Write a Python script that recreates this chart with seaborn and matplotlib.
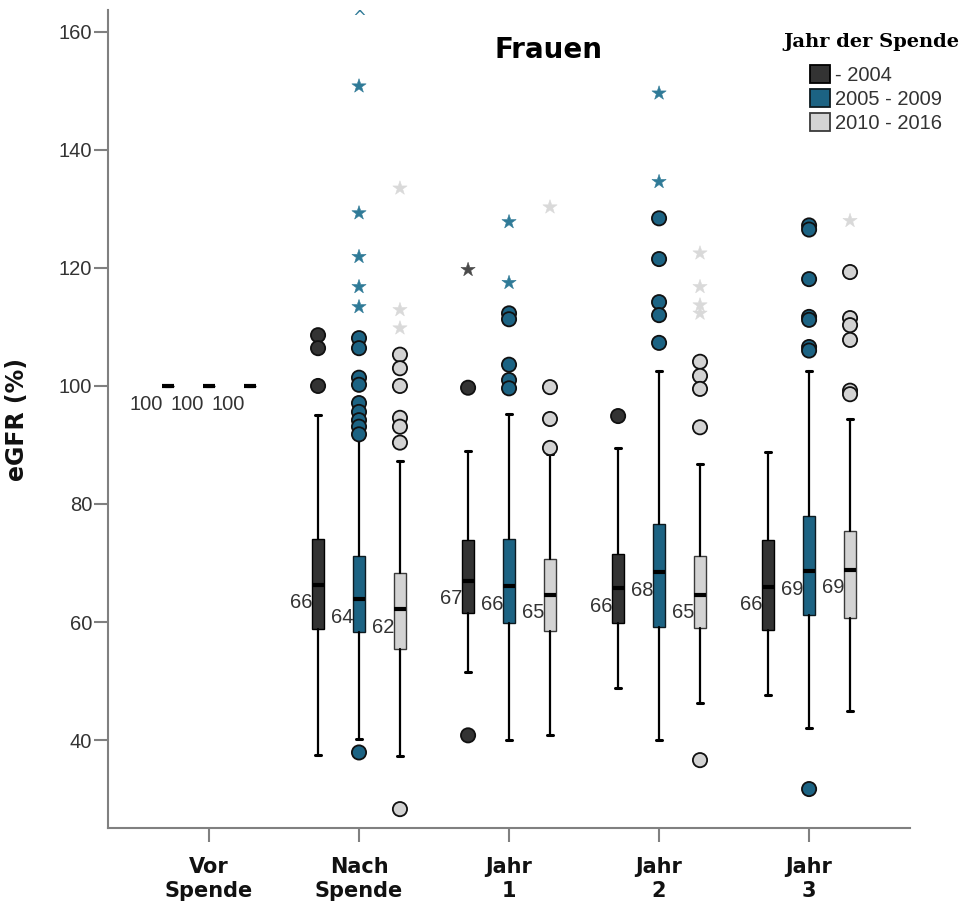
import matplotlib
matplotlib.use("Agg")
import matplotlib.pyplot as plt
from matplotlib.patches import Patch
import numpy as np
import pandas as pd
import seaborn as sns

# ---------------------------------------------------------------- data
timepoints = ["Vor\nSpende", "Nach\nSpende", "Jahr\n1", "Jahr\n2", "Jahr\n3"]
cohorts = ["- 2004", "2005 - 2009", "2010 - 2016"]

# box statistics: one row per time point, one column per donation cohort
q1 = [[100.0, 100.0, 100.0],
      [58.8, 58.3, 55.4],
      [61.5, 59.8, 58.4],
      [59.8, 59.2, 59.0],
      [58.6, 61.2, 60.6]]
median = [[100.0, 100.0, 100.0],
          [66.3, 63.9, 62.2],
          [67.0, 66.1, 64.6],
          [65.7, 68.4, 64.6],
          [66.0, 68.6, 68.9]]
q3 = [[100.0, 100.0, 100.0],
      [74.0, 71.2, 68.3],
      [73.9, 74.0, 70.6],
      [71.6, 76.6, 71.2],
      [73.9, 78.0, 75.5]]
whisker_low = [[100.0, 100.0, 100.0],
               [37.5, 40.2, 37.3],
               [51.6, 40.0, 40.8],
               [48.8, 40.0, 46.3],
               [47.6, 42.1, 44.9]]
whisker_high = [[100.0, 100.0, 100.0],
                [95.1, 91.0, 87.2],
                [89.0, 95.3, 88.5],
                [89.5, 102.5, 86.8],
                [88.8, 102.5, 94.4]]

# outliers (circles), per cohort and time point
outliers_2004 = [[], [108.6, 106.4, 100.0], [99.7, 40.8], [94.9], []]
outliers_2009 = [[],
                 [108.1, 106.4, 101.4, 100.2, 97.1, 95.6, 94.2, 93.1, 91.8, 37.9],
                 [112.3, 111.3, 103.6, 101.0, 99.6],
                 [128.4, 121.5, 114.2, 112.0, 107.3],
                 [127.2, 126.5, 118.1, 111.7, 111.2, 106.6, 106.0, 31.7]]
outliers_2016 = [[],
                 [105.3, 103.0, 100.0, 94.6, 93.1, 90.4, 28.3],
                 [99.8, 94.4, 89.5],
                 [104.1, 101.7, 99.5, 93.0, 36.6],
                 [119.3, 111.5, 110.3, 107.8, 99.2, 98.6]]

# extreme values (stars), per cohort and time point
extremes_2004 = [[], [], [119.7], [], []]
extremes_2009 = [[], [150.8, 129.3, 121.9, 116.8, 113.4], [127.8, 117.5],
                 [149.6, 134.6], []]
extremes_2016 = [[], [133.5, 112.9, 109.8], [130.3],
                 [122.5, 116.8, 113.7, 112.3], [128.0]]

# extreme value above the plotted range (time point, cohort)
beyond_range = [("Nach\nSpende", "2005 - 2009")]

y_ticks = [40, 60, 80, 100, 120, 140, 160]

# ---------------------------------------------------------------- style
box_colors = ["#333333", "#1c6383", "#d3d3d3"]
box_edges = ["#000000", "#0d1a20", "#3a3a3a"]
star_colors = ["#4a4a4a", "#2f7a97", "#d9d9d9"]
axis_gray = "#808080"
text_gray = "#333333"

sns.set_theme(style="ticks")
plt.rcParams["font.family"] = ["Liberation Sans", "DejaVu Sans"]

fig = plt.figure(figsize=(9.67, 9.09), dpi=100)
ax = fig.add_axes([0.1117, 0.0891, 0.8294, 0.8999])

offsets = [-0.273, 0.0, 0.273]
box_width = 0.08

# ---------------------------------------------------------------- boxes
stats, positions, fills, edges = [], [], [], []
for ti in range(len(timepoints)):
    for ci in range(len(cohorts)):
        stats.append(dict(med=median[ti][ci], q1=q1[ti][ci], q3=q3[ti][ci],
                          whislo=whisker_low[ti][ci], whishi=whisker_high[ti][ci],
                          fliers=[]))
        positions.append(ti + offsets[ci])
        fills.append(box_colors[ci])
        edges.append(box_edges[ci])

art = ax.bxp(stats, positions=positions, widths=box_width, patch_artist=True,
             showfliers=False, capwidths=0.035,
             boxprops=dict(linewidth=1.0),
             whiskerprops=dict(color="black", linewidth=1.6),
             capprops=dict(color="black", linewidth=2.2),
             medianprops=dict(color="black", linewidth=3.0, solid_capstyle="butt"),
             manage_ticks=False)
for patch, fc, ec in zip(art["boxes"], fills, edges):
    patch.set_facecolor(fc)
    patch.set_edgecolor(ec)

# median labels
for ti in range(len(timepoints)):
    for ci in range(len(cohorts)):
        m = median[ti][ci]
        ax.annotate(f"{round(m)}", xy=(ti + offsets[ci] - box_width / 2, m),
                    xytext=(0.5, -13), textcoords="offset points",
                    ha="right", va="center", fontsize=14.5, color=text_gray)

# ---------------------------------------------------------------- outliers
def long_table(groups):
    rows = []
    for ci, coh in enumerate(cohorts):
        for ti in range(len(timepoints)):
            for v in groups[ci][ti]:
                rows.append(dict(pos=ti + offsets[ci], value=v, cohort=coh))
    return pd.DataFrame(rows)

circles = long_table([outliers_2004, outliers_2009, outliers_2016])
stars = long_table([extremes_2004, extremes_2009, extremes_2016])

sns.scatterplot(data=circles, x="pos", y="value", hue="cohort", hue_order=cohorts,
                palette=dict(zip(cohorts, box_colors)), s=105, marker="o",
                edgecolor="#111111", linewidth=1.3, alpha=1, legend=False,
                ax=ax, zorder=3)
sns.scatterplot(data=stars, x="pos", y="value", hue="cohort", hue_order=cohorts,
                palette=dict(zip(cohorts, star_colors)), s=115, marker="*",
                edgecolor="face", linewidth=0.4, legend=False, ax=ax, zorder=3)

for tp, coh in beyond_range:
    ci = cohorts.index(coh)
    ax.text(timepoints.index(tp) + offsets[ci], 162.4, "^", ha="center",
            va="center", fontsize=12, color=star_colors[ci],
            family="DejaVu Sans")

# ---------------------------------------------------------------- axes
ax.set_xlim(-0.673, 4.673)
ax.set_ylim(25.1, 163.7)
ax.set_xticks(range(len(timepoints)))
ax.set_xticklabels(timepoints, family="DejaVu Sans", fontweight="bold",
                   fontsize=15, color="#111111", linespacing=1.25)
ax.set_yticks(y_ticks)
ax.set_yticklabels([str(t) for t in y_ticks], fontsize=14.5, color=text_gray)
ax.set_xlabel("")
ax.set_ylabel("eGFR (%)", family="DejaVu Sans", fontweight="bold",
              fontsize=17, color="#111111")
ax.yaxis.set_label_coords(-0.098, 0.5)

sns.despine(ax=ax)
for side in ("left", "bottom"):
    ax.spines[side].set_color(axis_gray)
    ax.spines[side].set_linewidth(1.5)
ax.tick_params(axis="both", direction="out", length=10, width=1.5,
               color=axis_gray)
ax.tick_params(axis="y", pad=1.5)
ax.tick_params(axis="x", pad=11)
ax.grid(False)
ax.set_facecolor("white")

ax.text(0.549, 0.951, "Frauen", transform=ax.transAxes, ha="center",
        va="center", fontsize=20, fontweight="bold", family="DejaVu Sans",
        color="black")

# ---------------------------------------------------------------- legend
fig.text(871 / 967, 1 - 42 / 909, "Jahr der Spende", ha="center", va="center",
         family="DejaVu Serif", fontweight="bold", fontsize=14, color="black")
handles = [Patch(facecolor=fc, edgecolor=ec, linewidth=1.3)
           for fc, ec in zip(box_colors, box_edges)]
fig.legend(handles, cohorts, loc="upper left",
           bbox_to_anchor=(810 / 967, 1 - 65 / 909), frameon=False,
           fontsize=14.5, handlelength=1.0, handleheight=1.0,
           handletextpad=0.25, labelspacing=0.2, borderpad=0, borderaxespad=0,
           labelcolor=text_gray)

fig.savefig("out.png", dpi=100, facecolor="white")
